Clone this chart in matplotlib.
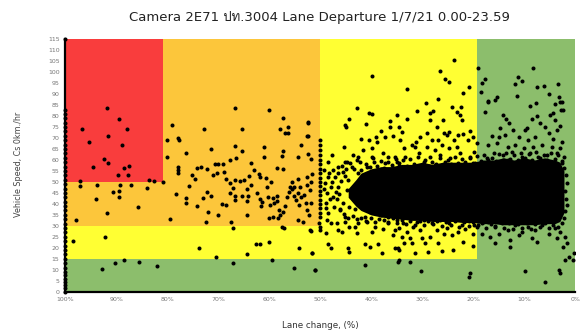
import numpy as np
import matplotlib
matplotlib.use("Agg")
import matplotlib.pyplot as plt
from matplotlib import font_manager
from matplotlib.ft2font import FT2Font

# zones (x in %, speed)
zone_red = (80.8, 100, 50, 115)
zone_orange = [(50.0, 80.8, 30, 115), (80.8, 100, 30, 50)]
zone_yellow = [(19.2, 50.0, 15, 115), (50.0, 100, 15, 30)]
zone_green = (0, 100, 0, 115)

# column of points stacked on 100%
col100_speed = [0, 1.5, 3, 4.5, 6, 7.5, 9, 11, 13, 15, 17, 19, 21, 23, 25, 27, 29, 31,
                33, 35, 37, 39, 41, 43, 45, 47, 49, 51, 53, 55, 57, 59, 61, 63, 65,
                67, 69, 71, 73, 75, 77, 79, 81, 83, 115]

pts_left = [(91.8, 83.5), (89.5, 78.5), (96.7, 74), (87.8, 74.3), (95.3, 68.3), (91.6, 70.9),
            (88.9, 66.8), (92.3, 60.3), (91.6, 58.5), (94.6, 57), (87.5, 57.4), (88.4, 56.2),
            (89.7, 53.2), (87.6, 53.2), (97.1, 50.6), (83.5, 50.9), (82.5, 50.4), (80.8, 50),
            (97.1, 48.1), (93.7, 48.6), (89.2, 48.6), (87.1, 48.6), (90.7, 45.6), (89.5, 46),
            (83.9, 47.1), (93.9, 42.1), (89.5, 43), (85.7, 38.7), (91.7, 36), (97.8, 32.6),
            (98.5, 22.9), (92.1, 24.8), (92.7, 10.3), (90.3, 13.2), (88.5, 14.4), (85.5, 13.7),
            (81.9, 11.7)]

pts_mid = [(79.1, 75.9), (80.1, 69.1), (77.8, 69.9), (77.6, 69.1), (80.1, 61.5), (76.2, 63),
           (72.7, 74.1), (66.7, 83.5), (60.0, 82.6), (65.3, 74), (66.6, 66.4), (65.4, 64.1),
           (61.1, 65.8), (57.2, 79), (57.8, 74.1), (56.3, 75.2), (56.9, 72.4), (56.3, 72.4),
           (52.4, 77.1), (52.6, 70.9), (53.7, 66.8), (57.3, 64.2), (57.5, 62), (54.4, 61.5),
           (52.4, 62.7), (51.8, 60.3), (61.0, 61.5), (67.6, 60), (66.5, 60.7), (69.1, 58.2),
           (63.6, 58.8), (71.4, 65), (77.9, 56.9), (77.9, 55.4), (77.9, 53.9), (75.1, 53),
           (74.6, 51.2), (74.1, 56.2), (73.3, 56.6), (72.2, 55.7), (70.6, 58), (70.0, 58),
           (71.0, 53.2), (70.2, 54.2), (68.9, 54.5), (68.4, 51.3), (67.7, 49.5), (66.7, 50.9),
           (65.8, 50.6), (65.0, 50.9), (64.0, 52.8), (62.9, 55.4), (61.9, 53.5), (61.8, 52.1),
           (60.7, 52), (59.6, 50.1), (60.5, 47.8), (58.5, 56.5), (57.2, 55.7), (55.6, 50.1),
           (54.4, 51.2), (55.2, 47.8), (53.9, 47.8), (52.6, 48.6), (51.9, 46.3), (52.6, 52.4),
           (51.6, 53.6), (51.8, 50.1), (78.2, 44.3), (75.8, 48.1), (76.2, 42.5), (76.2, 40.2),
           (74.1, 39), (72.9, 42.5), (72.2, 45.3), (71.4, 43.7), (72.0, 36.4), (72.4, 31.7),
           (70.1, 34.9), (69.2, 39.9), (68.5, 39.6), (67.6, 44.8), (67.1, 47.1), (66.7, 43.6),
           (66.6, 41.8), (65.4, 43.6), (64.4, 46.6), (64.1, 43.7), (64.4, 34.9), (63.5, 48.6),
           (62.4, 44.8), (61.8, 42.2), (61.6, 39), (61.3, 40.7), (60.2, 43), (59.9, 39.5),
           (59.2, 42.5), (59.1, 40.2), (58.5, 43.7), (58.4, 41.3), (58.0, 37.2), (58.2, 33.4),
           (57.8, 34.9), (57.3, 36.4), (56.8, 39.2), (56.5, 43.3), (56.2, 45.3), (55.9, 47.8),
           (55.5, 46.6), (55.2, 43.6), (54.8, 41.8), (54.4, 45.1), (54.2, 39.5), (53.8, 43),
           (53.1, 44), (52.8, 40.2), (52.6, 37.2), (52.1, 34.9), (51.8, 40.2), (79.5, 33.1),
           (64.4, 41.1), (60.0, 33.4), (59.2, 34.2), (57.5, 29.6), (57.0, 29.2), (54.4, 32.6),
           (53.3, 31.9), (52.0, 28.1), (67.1, 28.9), (67.4, 31.9), (73.8, 20), (70.4, 15.9),
           (64.4, 17), (62.6, 21.6), (61.8, 21.6), (60.0, 22.5), (59.4, 14.4), (54.2, 20),
           (51.6, 17.8), (55.2, 10.9), (51.0, 9.9), (67.1, 13.2), (52.4, 76.9), (52.4, 70.9)]

pts_right = [(39.9, 98.2), (42.7, 83.5), (40.5, 81.2), (39.9, 80.8), (35.0, 80.5), (44.4, 78.9),
             (45.2, 75.9), (45.0, 75.1), (41.0, 76.2), (36.3, 77.9), (36.3, 75.1), (38.0, 73.3),
             (42.0, 69.8), (40.5, 69.1), (39.0, 70.3), (38.9, 68.3), (37.2, 70.6), (35.8, 70.9),
             (50.0, 69.1), (50.0, 66.8), (50.0, 64.5), (50.0, 62.2), (50.0, 60), (50.0, 58),
             (50.0, 56), (50.0, 54), (50.0, 52), (50.0, 50), (50.0, 48), (50.0, 46), (50.0, 44),
             (50.0, 42), (50.0, 40), (50.0, 38), (50.0, 36), (50.0, 34), (45.4, 66), (43.5, 62.2),
             (41.5, 64.5), (39.9, 65.3), (47.7, 62.2), (48.4, 59.2), (44.8, 59.2), (46.4, 56.9),
             (37.7, 63), (35.3, 61.5), (50.3, 31.1), (48.7, 32.6), (47.8, 31.1), (46.7, 31.1),
             (45.1, 31.9), (46.4, 28.1), (51.8, 27.8), (50.0, 29.6), (50.0, 28.1), (48.9, 26.8),
             (45.7, 27.3), (44.4, 29.6), (43.1, 29.6), (42.5, 31.1), (40.8, 31.9), (39.2, 29.6),
             (37.6, 28.4), (36.6, 31.1), (35.3, 28.1), (42.8, 26.6), (39.9, 27), (35.8, 25.8),
             (48.5, 21.7), (47.8, 19.7), (44.6, 19.7), (44.4, 18.2), (41.3, 21.9), (40.2, 20.5),
             (38.7, 21.7), (37.8, 17.7), (35.4, 19.7), (34.8, 19.7), (51.5, 17.7), (34.8, 13.7),
             (51.0, 9.8), (41.3, 12.1),
             (49.3, 55.4), (49.0, 49.3), (48.9, 40.2), (48.4, 36), (47.4, 43.3), (47.1, 52.4),
             (46.4, 47.8), (46.1, 37.2), (45.6, 54.6), (45.1, 34.1), (44.6, 50.9), (43.8, 56.9),
             (43.1, 37.9), (42.6, 53.9), (42.2, 59.2), (41.3, 34.1), (40.8, 56.9), (40.2, 36.4),
             (39.5, 59.2), (38.9, 55.4), (38.0, 34.9), (37.3, 58.5), (36.6, 34.1), (35.8, 56.2),
             (35.0, 59.2), (34.6, 36.4), (42.5, 61.5), (45.1, 59.2), (39.9, 61.5), (36.6, 61.5),
             (47.4, 55.4), (48.4, 52.4), (48.6, 45.1), (47.9, 47.6), (48.1, 42.3), (47.2, 38.8),
             (46.9, 45.5), (48.8, 38.1), (47.6, 50.2), (49.2, 46.8), (46.6, 42.1), (48.2, 54.1),
             (45.9, 50.3), (45.5, 40.4), (44.7, 46.2), (45.2, 52.6), (44.3, 38.7), (46.3, 44.4),
             (23.7, 105.5), (26.5, 100.7), (25.6, 96.7), (24.8, 95.7), (33.0, 92.3), (21.9, 90.6),
             (20.8, 93.1), (26.9, 87.8), (29.3, 85.8), (24.2, 84.3), (22.3, 84), (27.9, 82.4),
             (31.0, 82.3), (23.2, 82), (22.5, 80.5), (28.5, 81.2), (28.4, 78.2), (33.0, 78.5),
             (26.0, 78.2), (22.2, 78.2), (27.1, 75.1), (34.5, 75.1), (34.0, 72.9), (25.8, 72.4),
             (25.2, 71.4), (24.7, 72.9), (23.7, 69.1), (22.9, 71.4), (21.9, 71.8), (20.6, 73.3),
             (30.4, 70.6), (29.1, 72.1), (32.0, 66.8), (31.2, 68.3), (28.1, 69.1), (26.9, 69.1),
             (34.3, 69.1), (33.5, 65.3), (29.1, 66), (26.1, 66.8), (24.8, 65.3), (21.0, 69.1),
             (20.1, 70.6), (19.9, 63.8),
             (34.6, 58.5), (33.3, 61.5), (32.0, 56.9), (30.7, 63), (29.7, 59.2), (28.4, 61.5),
             (27.4, 57.7), (26.5, 62.2), (25.5, 59.2), (24.5, 60.7), (23.5, 57.7), (22.5, 63),
             (21.6, 59.2), (20.6, 61.5), (19.6, 58.5), (31.4, 66), (27.4, 64.5), (23.2, 66),
             (19.3, 67.6),
             (35.0, 32.6), (33.7, 31.1), (32.3, 33.4), (31.0, 31.9), (29.7, 32.6), (28.1, 31.1),
             (26.5, 32.6), (24.8, 31.1), (23.5, 32.6), (22.2, 30.3), (20.9, 32.3), (19.9, 30.3),
             (34.6, 28.8), (33.0, 27.3), (31.7, 29.6), (30.4, 28.1), (34.0, 25), (32.3, 24.3),
             (30.1, 24.3), (28.4, 25), (32.0, 22), (29.4, 22), (25.8, 26.5), (24.2, 25.8),
             (27.1, 28.1), (25.2, 28.8), (22.9, 27.3), (21.6, 28.4), (34.6, 19.2), (33.5, 22),
             (31.4, 17.7), (28.9, 18.2), (26.8, 22), (26.1, 18.6), (23.9, 18.9), (21.9, 22.7),
             (20.0, 20.8), (20.1, 26.5), (34.6, 14.4), (32.3, 13.6), (30.2, 9.5), (20.6, 8.3),
             (20.8, 6.8), (19.1, 30.3), (18.0, 31.9), (18.3, 26.5),
             (19.0, 101.7), (18.2, 94.9), (17.6, 96.7), (18.4, 91.1), (17.1, 87), (17.6, 82),
             (8.2, 101.7), (11.2, 97.9), (10.5, 96.1), (11.8, 94.6), (7.5, 93.1), (6.2, 93.7),
             (3.4, 94.6), (5.1, 90.3), (11.4, 89.3), (15.4, 88.5), (15.8, 87.3), (17.0, 86.5),
             (3.1, 88.8), (8.8, 84.6), (7.7, 86.1), (3.9, 85.5), (2.9, 86.5), (2.5, 86.5),
             (2.7, 82.7), (2.3, 83), (14.1, 80.5), (13.5, 78.9), (8.5, 78.9), (7.5, 80),
             (4.9, 80.5), (4.3, 81.2), (3.9, 78.2), (2.9, 75.5), (3.6, 73.6), (12.9, 76.7),
             (14.7, 74.4), (12.1, 73.6), (9.5, 74.8), (9.9, 73.6), (6.9, 76.7), (5.9, 75.1),
             (16.3, 70.9), (15.0, 70.6), (13.7, 71.4), (11.1, 70.6), (9.2, 69.1), (7.8, 70.6),
             (5.2, 72.1), (4.3, 69.8), (2.6, 68.3), (17.0, 66.8), (15.4, 67.6), (13.1, 66),
             (11.8, 66.8), (10.1, 65.3), (8.2, 66), (6.5, 66.8), (4.6, 66), (2.9, 65.3),
             (16.0, 63), (14.1, 62.2), (12.4, 63.8), (10.5, 61.5), (8.8, 63), (7.2, 61.5),
             (5.6, 62.2), (3.6, 63), (2.1, 61.5), (17.3, 60.7), (15.0, 59.2), (13.1, 60),
             (11.4, 58.7), (9.5, 59.2), (7.8, 58.5), (6.2, 59.2), (4.6, 58.7), (2.6, 58.5),
             (17.0, 31.9), (15.7, 29.6), (14.4, 31.1), (13.1, 28.1), (11.8, 30.3), (10.5, 27.3),
             (9.2, 29.6), (7.8, 28.1), (6.5, 30.3), (5.2, 26.5), (3.9, 28.8), (2.9, 27.3),
             (2.0, 25), (1.6, 22), (2.3, 20.5), (16.7, 25), (15.0, 26.2), (15.7, 22),
             (12.8, 23.5), (11.1, 25.8), (8.5, 24.3), (7.5, 22.7), (12.8, 20.5), (3.6, 24.3),
             (0.3, 17.7), (0.5, 14.4), (2.0, 14.4), (1.2, 15.9), (9.8, 9.5), (3.1, 9.8),
             (2.9, 8.6), (6.0, 4.2)]

# dense rim of the cloud, just outside the saturated core
pts_rim_top = [(46.5, 54), (45.8, 57.5), (44.9, 55.8), (44.2, 58.8), (43.4, 56), (42.7, 60.2),
               (41.9, 55.5), (41.1, 58.4), (40.3, 56.7), (39.6, 60.8), (38.8, 57.2), (38.1, 59.6),
               (37.4, 56.4), (36.7, 58.9), (35.9, 57.7), (35.2, 60.3), (34.5, 57.3), (33.8, 59.8),
               (33.0, 57.1), (32.3, 60.6), (31.6, 58.3), (30.9, 61.2), (30.1, 57.9), (29.4, 60.1),
               (28.7, 57.4), (28.0, 59.3), (27.2, 58.1), (26.5, 60.7), (25.8, 57.6), (25.0, 59.9),
               (24.3, 58.4), (23.6, 61.3), (22.9, 58.8), (22.1, 60.4), (21.4, 57.9), (20.7, 60.9),
               (20.0, 58.6), (19.3, 61.7), (18.5, 59.4), (17.8, 62.3), (17.1, 59.8), (16.4, 61.1),
               (15.6, 59.5), (14.9, 62.7), (14.2, 60.2), (13.5, 63.4), (12.7, 60.4), (12.0, 62.1),
               (11.3, 59.9), (10.6, 63.2), (9.8, 60.7), (9.1, 62.6), (8.4, 59.9), (7.7, 63.6),
               (6.9, 60.8), (6.2, 62.2), (5.5, 60.1), (4.8, 63.1), (4.0, 60.3), (3.3, 62.4),
               (2.6, 59.7), (2.1, 56.4), (1.8, 53.2), (1.7, 49.5), (1.9, 45.8), (1.8, 42.1),
               (1.7, 39.4), (2.0, 36.7)]
pts_rim_bottom = [(46.2, 37.5), (45.3, 35.2), (44.5, 33.6), (43.6, 34.7), (42.8, 32.9), (41.9, 33.8),
                  (41.0, 32.4), (40.1, 33.5), (39.3, 31.8), (38.4, 33.1), (37.5, 32.6), (36.6, 31.9),
                  (35.8, 33.4), (34.9, 31.5), (34.0, 32.8), (33.2, 30.9), (32.3, 32.1), (31.4, 30.6),
                  (30.5, 32.4), (29.7, 30.2), (28.8, 32.1), (27.9, 30.8), (27.0, 32.3), (26.2, 29.9),
                  (25.3, 31.7), (24.4, 30.4), (23.5, 32.0), (22.7, 29.6), (21.8, 31.8), (20.9, 30.1),
                  (20.0, 31.6), (19.2, 29.3), (18.3, 31.3), (17.4, 28.9), (16.5, 31.0), (15.7, 29.8),
                  (14.8, 31.6), (13.9, 29.2), (13.0, 31.2), (12.2, 28.6), (11.3, 30.9), (10.4, 29.0),
                  (9.5, 31.4), (8.7, 28.7), (7.8, 30.8), (6.9, 29.3), (6.0, 31.5), (5.2, 28.8),
                  (4.3, 30.6), (3.4, 29.5), (2.6, 31.2), (2.1, 33.4)]

# saturated core of the cloud (upper / lower envelope)
core_pct = [44.5, 43, 42, 40, 38, 36, 34, 32, 30, 28, 26, 24, 22, 20, 18, 16, 14, 12, 10, 8, 6, 4, 3, 2.2]
core_hi = [47, 51, 54, 56, 57, 57, 58, 58, 59, 58, 59, 59, 59, 59, 60, 60, 61, 60, 61, 60, 61, 60, 59, 55]
core_lo = [43, 39, 37, 35, 34, 33.5, 33, 32.5, 32.5, 32, 32, 32, 31.5, 31.5, 31, 31, 30.5, 30.5,
           30.5, 30.5, 31, 31, 32, 36]

x_ticks = [100, 90, 80, 70, 60, 50, 40, 30, 20, 10, 0]
x_ticklabels = ["100%", "90%", "80%", "70%", "60%", "50%", "40%", "30%", "20%", "10%", "0%"]
y_ticks = list(range(0, 116, 5))


def find_thai():
    for f in font_manager.fontManager.ttflist:
        try:
            if 0x0E1B in FT2Font(f.fname).get_charmap():
                return f.name
        except Exception:
            pass
    return None


thai = find_thai()
title_family = ["DejaVu Sans"] + ([thai] if thai else [])

fig = plt.figure(figsize=(5.81, 3.33), dpi=100)
ax = fig.add_axes([0.112, 0.124, 0.878, 0.758])

c_red, c_orange, c_yellow, c_green = "#F93D3D", "#FCC63B", "#FFFF33", "#8CBE6C"
x0, x1, y0, y1 = zone_green
ax.fill_between([x0, x1], y0, y1, color=c_green, lw=0, zorder=0)
for (a, b, lo, hi) in zone_yellow:
    ax.fill_between([a, b], lo, hi, color=c_yellow, lw=0, zorder=0)
for (a, b, lo, hi) in zone_orange:
    ax.fill_between([a, b], lo, hi, color=c_orange, lw=0, zorder=0)
a, b, lo, hi = zone_red
ax.fill_between([a, b], lo, hi, color=c_red, lw=0, zorder=0)

ax.fill_between(core_pct, core_lo, core_hi, color="k", lw=0, zorder=2)

allpts = np.array(pts_left + pts_mid + pts_right + pts_rim_top + pts_rim_bottom)
ax.plot(allpts[:, 0], allpts[:, 1], "o", color="k", ms=2.9, mew=0, zorder=3)
ax.plot([100] * len(col100_speed), col100_speed, "o", color="k", ms=2.9, mew=0,
        zorder=3, clip_on=False)

ax.set_xlim(100, 0)
ax.set_ylim(0, 115)
ax.set_xticks(x_ticks)
ax.set_xticklabels(x_ticklabels)
ax.set_yticks(y_ticks)
ax.tick_params(length=0, labelsize=4.5, labelcolor="#777777", pad=4)
for s in ["top", "right"]:
    ax.spines[s].set_visible(False)
ax.spines["left"].set_linewidth(1.6)
ax.spines["bottom"].set_linewidth(1.6)
ax.spines["left"].set_zorder(4)
ax.spines["bottom"].set_zorder(4)

fig.text(0.55, 0.948, "Camera 2E71 ปท.3004 Lane Departure 1/7/21 0.00-23.59",
         ha="center", va="center", fontsize=9.5, color="#222222", family=title_family)
fig.text(0.551, 0.022, "Lane change, (%)", ha="center", va="center",
         fontsize=6.3, color="#333333")
fig.text(0.032, 0.505, "Vehicle Speed, Cs 0km./hr", ha="center", va="center",
         rotation=90, fontsize=5.8, color="#444444")

fig.savefig("out.png", dpi=100)
